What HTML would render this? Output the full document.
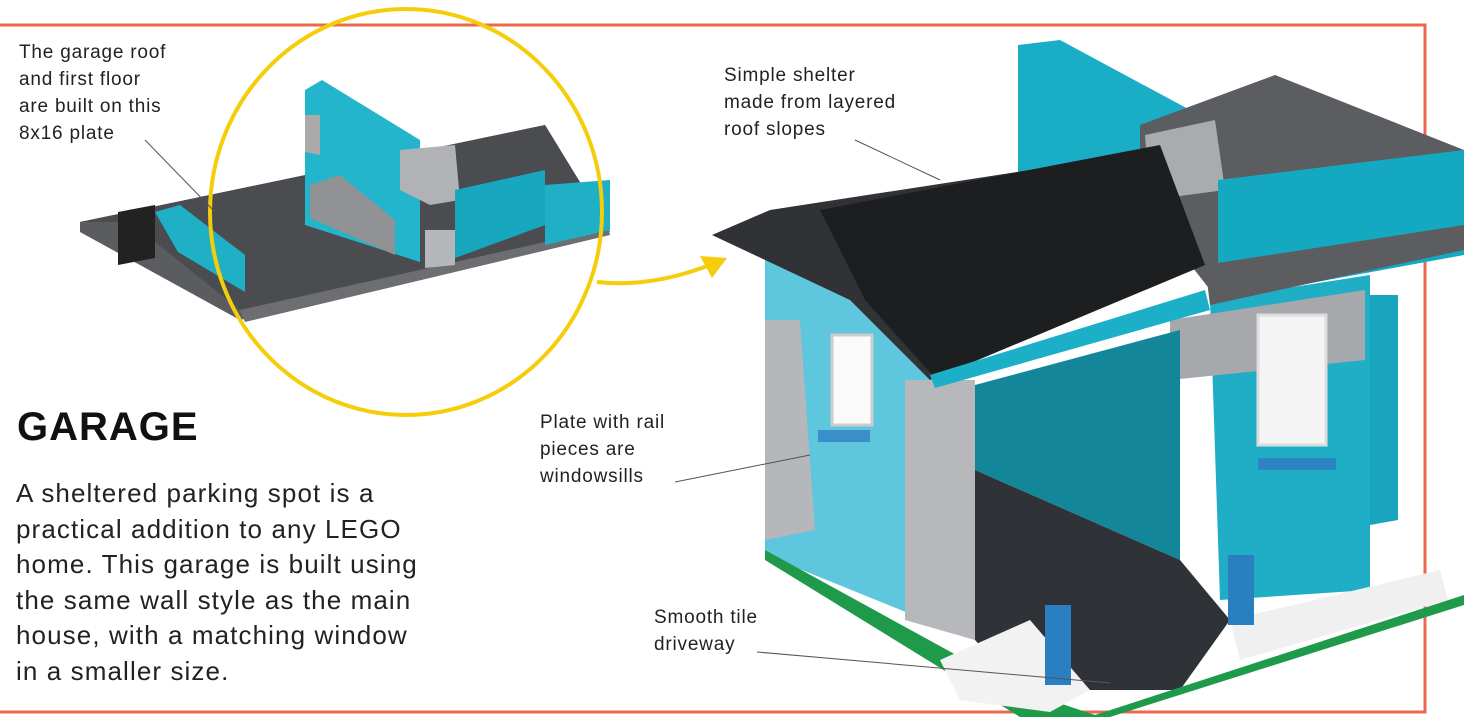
<!DOCTYPE html>
<html><head><meta charset="utf-8"><style>
body{margin:0;width:1464px;height:717px;background:#fff;overflow:hidden;position:relative;font-family:"Liberation Sans",sans-serif}
.t{position:absolute;font-size:19px;line-height:27px;color:#222;letter-spacing:0.8px}
svg{position:absolute;left:0;top:0}
</style></head><body>
<svg width="1464" height="717" viewBox="0 0 1464 717">
<path d="M0 25 H1425 V712 H0" fill="none" stroke="#ec6a4c" stroke-width="3"/>
<polygon points="80,222 545,125 608,228 610,232 240,320 80,232" fill="#5a5c60"/>
<polygon points="80,222 545,125 608,228 240,310 130,222" fill="#4a4c50"/>
<polygon points="240,310 608,228 610,235 245,322" fill="#6c6e72"/>
<polygon points="118,212 155,205 155,258 118,265" fill="#222"/>
<polygon points="155,212 180,205 245,255 245,292 178,252" fill="#1fb0c6"/>
<polygon points="305,90 322,80 420,140 420,262 305,225" fill="#23b5cb"/>
<polygon points="305,115 320,115 320,155 305,152" fill="#aaa"/>
<polygon points="310,185 340,175 395,220 395,255 310,218" fill="#909295"/>
<polygon points="400,150 455,145 460,200 430,205 400,190" fill="#b0b2b5"/>
<polygon points="455,190 545,170 545,225 455,258" fill="#17a8c0"/>
<polygon points="545,185 610,180 610,230 545,245" fill="#1fb0c6"/>
<polygon points="425,230 455,230 455,265 425,268" fill="#b5b7ba"/>
<ellipse cx="406" cy="212" rx="196" ry="203" fill="none" stroke="#f5cd0a" stroke-width="4"/>
<path d="M597 282 Q650 288 710 265" fill="none" stroke="#f5cd0a" stroke-width="4"/>
<polygon points="727,258 700,256 712,278" fill="#f5cd0a"/>
<polygon points="1018,45 1060,40 1218,125 1218,210 1018,210" fill="#1aaec6"/>
<polygon points="1140,125 1275,75 1464,150 1464,250 1218,300 1140,200" fill="#5b5d60"/>
<polygon points="1145,135 1215,120 1225,190 1150,200" fill="#a9abae"/>
<polygon points="1218,180 1464,150 1464,255 1218,300" fill="#14a9c1"/>
<polygon points="1210,300 1370,275 1370,590 1220,600" fill="#1faec6"/>
<polygon points="1170,320 1365,290 1365,360 1170,380" fill="#a6a8ab"/>
<rect x="1258" y="315" width="68" height="130" fill="#f4f4f4" stroke="#ddd" stroke-width="3"/>
<rect x="1258" y="458" width="78" height="12" fill="#2b84c4"/>
<polygon points="1370,295 1398,295 1398,520 1370,525" fill="#18a5bd"/>
<polygon points="765,255 960,330 975,640 765,555" fill="#5ec6dd"/>
<polygon points="765,320 800,320 815,530 765,540" fill="#b5b7ba"/>
<polygon points="905,380 975,380 975,640 905,620" fill="#b6b8bb"/>
<rect x="832" y="335" width="40" height="90" fill="#fafafa" stroke="#ccc" stroke-width="3"/>
<rect x="818" y="430" width="52" height="12" fill="#3a8ec9"/>
<polygon points="975,385 1180,330 1180,560 975,470" fill="#13869a"/>
<polygon points="975,470 1180,560 1230,620 1180,690 1020,690 975,640" fill="#2f3338"/>
<polygon points="712,235 770,210 1160,150 1165,260 930,380 850,300" fill="#303236"/>
<polygon points="820,210 1160,145 1205,265 935,378 865,300" fill="#1d1e20"/>
<polygon points="930,375 1205,290 1210,310 935,388" fill="#1cb0c8"/>
<polygon points="1205,265 1464,225 1464,250 1210,305" fill="#5b5d60"/>
<polygon points="765,550 1020,690 1095,715 1464,595 1464,605 1110,717 1020,717 765,560" fill="#1f9a4a"/>
<polygon points="940,660 1030,620 1090,690 1050,712 960,700" fill="#f2f2f2"/>
<polygon points="1230,620 1440,570 1448,600 1240,660" fill="#f0f0f0"/>
<rect x="1045" y="605" width="26" height="80" fill="#2a7fc0"/>
<rect x="1228" y="555" width="26" height="70" fill="#2a7fc0"/>
<g stroke="#555" stroke-width="1" fill="none">
<line x1="145" y1="140" x2="215" y2="212"/>
<line x1="855" y1="140" x2="940" y2="180"/>
<line x1="675" y1="482" x2="810" y2="455"/>
<line x1="757" y1="652" x2="1110" y2="683"/>
</g>
</svg>
<div class="t" style="left:19px;top:39px">The garage roof<br>and first floor<br>are built on this<br>8x16 plate</div>
<div class="t" style="left:724px;top:62px">Simple shelter<br>made from layered<br>roof slopes</div>
<div class="t" style="left:540px;top:409px">Plate with rail<br>pieces are<br>windowsills</div>
<div class="t" style="left:654px;top:604px">Smooth tile<br>driveway</div>
<div style="position:absolute;left:17px;top:405px;font-size:40px;font-weight:bold;color:#111;letter-spacing:1px">GARAGE</div>
<div style="position:absolute;left:16px;top:476px;font-size:26px;line-height:35.5px;color:#222;white-space:nowrap;letter-spacing:1.1px">A sheltered parking spot is a<br>practical addition to any LEGO<br>home. This garage is built using<br>the same wall style as the main<br>house, with a matching window<br>in a smaller size.</div>
</body></html>
